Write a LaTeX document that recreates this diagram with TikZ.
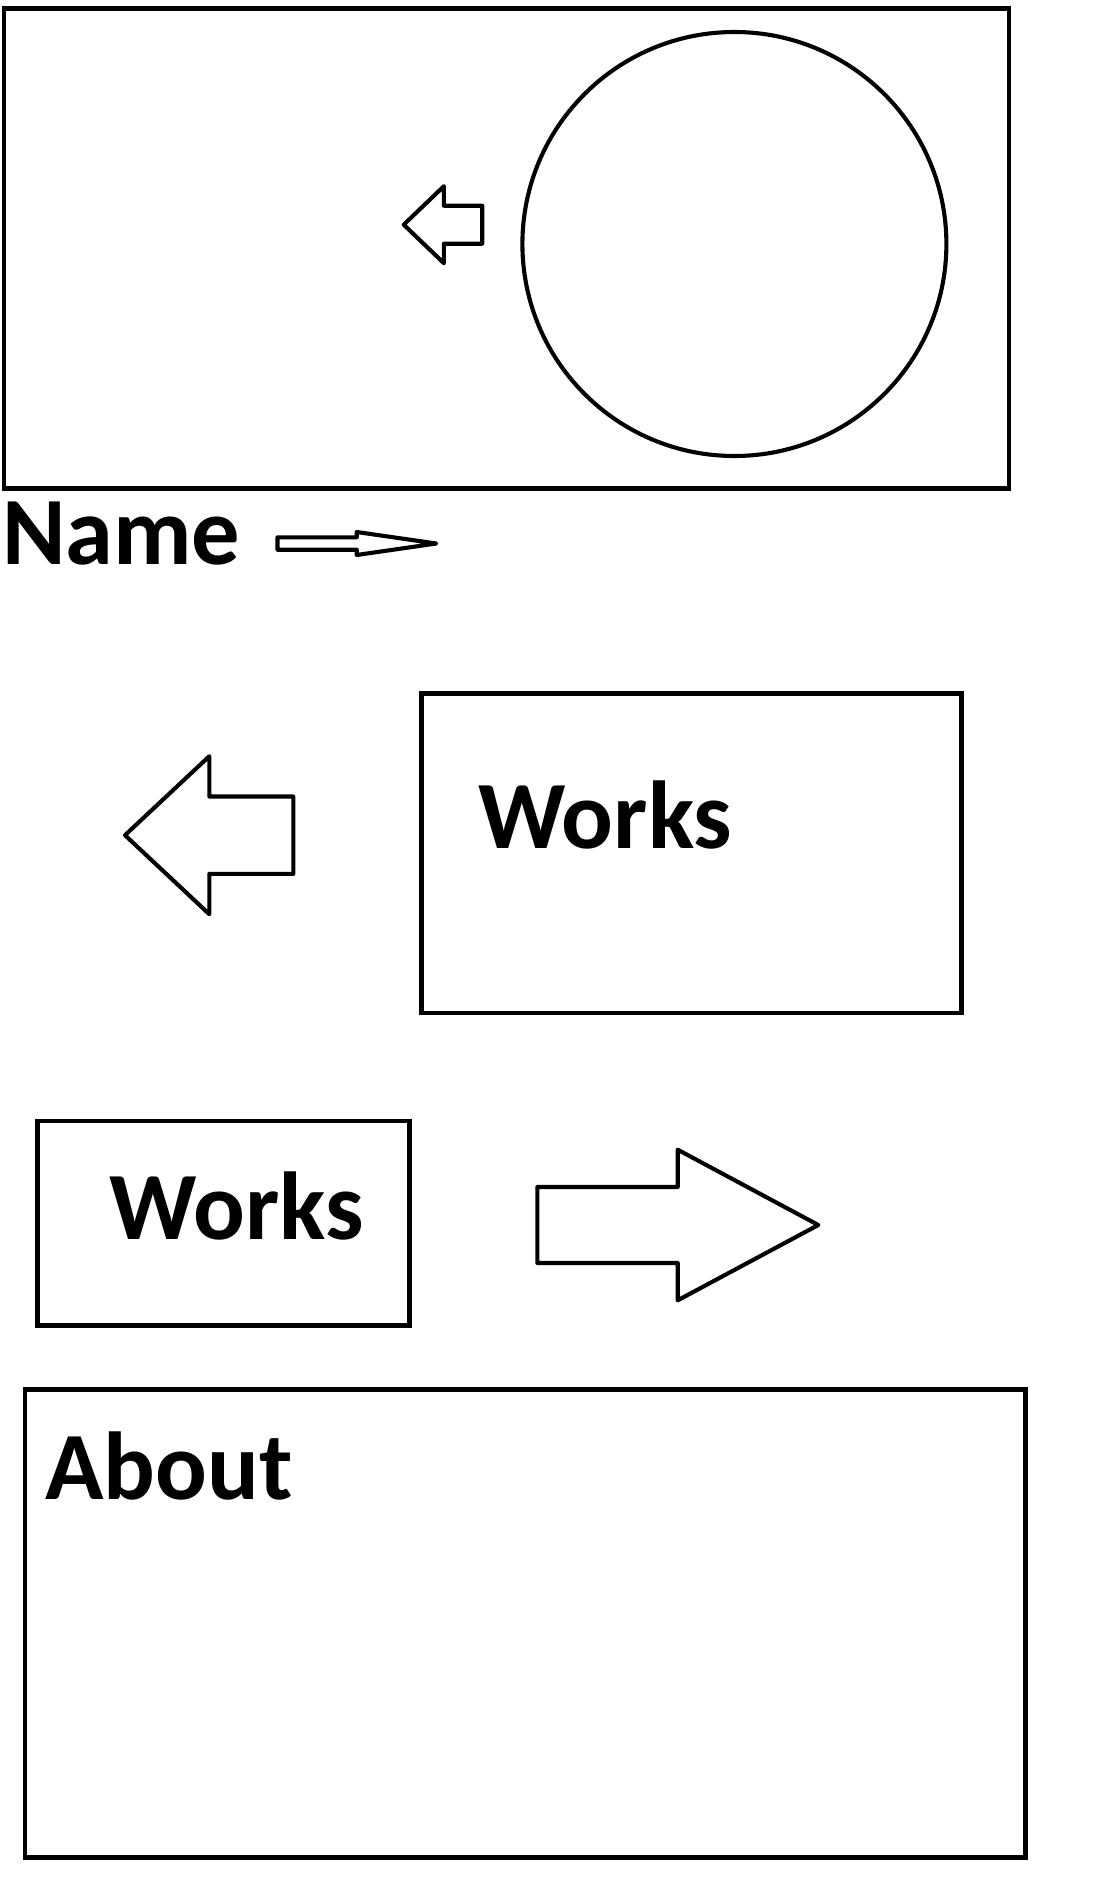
\documentclass[tikz,border=0pt]{standalone}
\usepackage{fontspec}
\setmainfont{Carlito}
\newcommand{\titrefont}{\bfseries\fontsize{96.5}{100}\selectfont}
% block arrow: tip x, tip y, head x, head half height, tail x, shaft half height
\newcommand{\fleche}[6]{\draw[trait] (#1,#2) -- (#3,#2-#4) -- (#3,#2-#6) -- (#5,#2-#6) -- (#5,#2+#6) -- (#3,#2+#6) -- (#3,#2+#4) -- cycle}
\tikzset{
  cadre/.style={line width=4.6pt},
  trait/.style={line width=4.1pt, line join=round},
  titre/.style={font=\titrefont, anchor=base west, inner sep=0pt}
}

\begin{document}
\begin{tikzpicture}[x=1pt, y=-1pt]
                \useasboundingbox (0,0) rectangle (1108,1892);

                % header
                \draw[cadre] (4,8.5) rectangle (1009,488.5);
                \draw[trait] (734.4,244) circle[radius=212];
                \fleche{403.7}{224.7}{443.9}{38.5}{482.2}{19};
                \node[titre] (nom) at (2,564.5) {Name};
                \fleche{436.3}{543.5}{356.7}{11.5}{277.5}{6.2};

                % works
                \draw[cadre] (421.5,693.3) rectangle (961.3,1013);
                \node[titre] (travaux) at (478,848.3) {Works};
                \fleche{125}{835.2}{209.3}{79}{293.3}{38.7};

                \draw[cadre] (37.3,1121) rectangle (409.3,1325.7);
                \node[titre] (travauxbis) at (109.7,1239.3) {Works};
                \fleche{818.3}{1225}{677.7}{75.3}{537.3}{38};

                % about
                \draw[cadre] (25,1389.3) rectangle (1025.3,1857.3);
                \node[titre] (apropos) at (45,1499) {About};
            \end{tikzpicture}
\end{document}
